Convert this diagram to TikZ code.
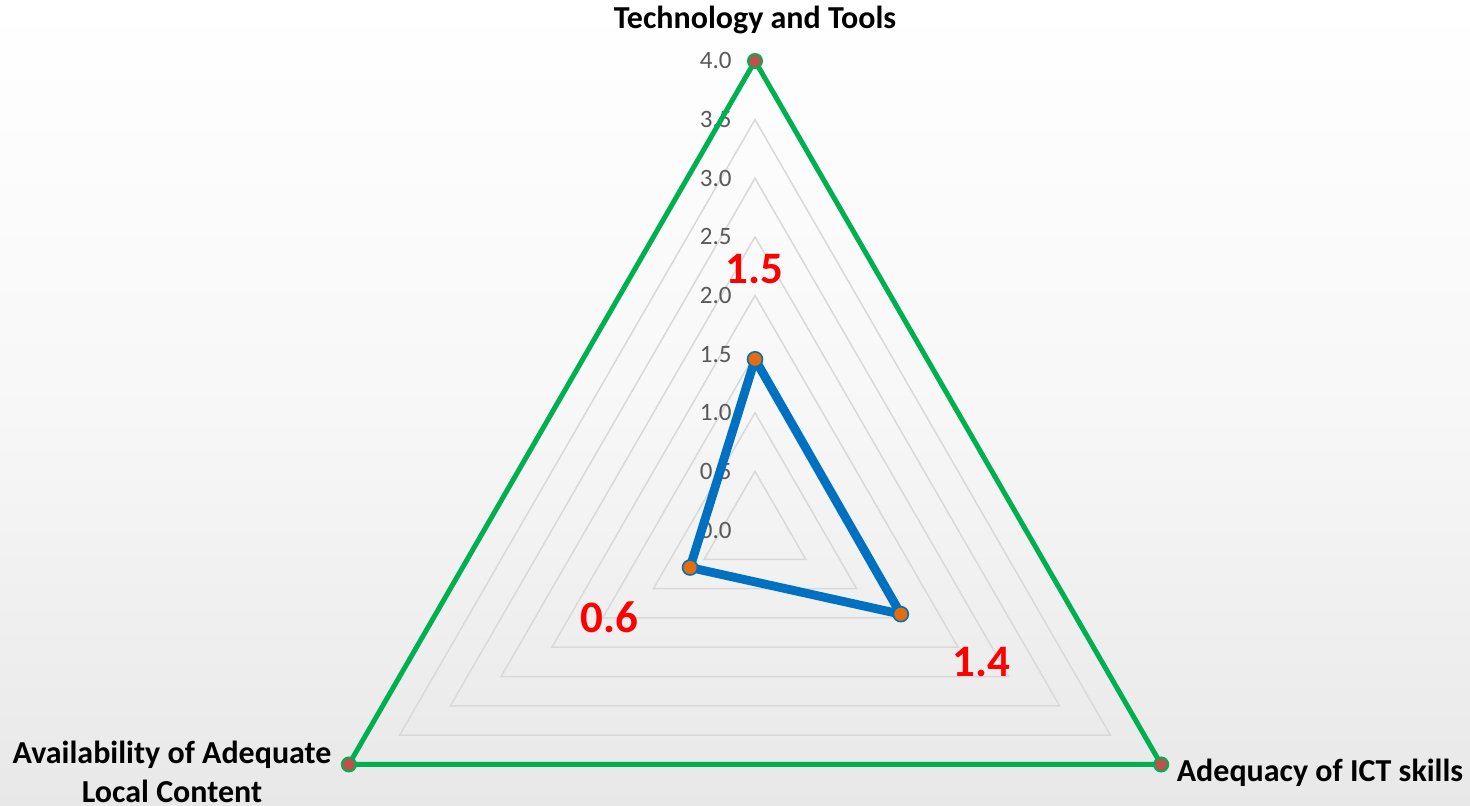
\documentclass[tikz,border=0pt]{standalone}
\usepackage{fontspec}
\setmainfont{Carlito}
\definecolor{gridc}{HTML}{D9D9D9}
\definecolor{greenc}{HTML}{00B050}
\definecolor{bluec}{HTML}{0070C0}
\definecolor{orangec}{HTML}{E46C0A}
\definecolor{redm}{HTML}{C0504D}
\definecolor{labc}{HTML}{595959}
\begin{document}
\begin{tikzpicture}[x=0.5pt,y=0.5pt,
  gridline/.style={draw=gridc,line width=0.75pt,line join=miter},
  ticklab/.style={text=labc,font=\fontsize{12.5}{14}\selectfont,anchor=east,inner sep=0pt},
  axlab/.style={font=\bfseries\fontsize{16}{19.5}\selectfont,align=center,inner sep=0pt},
  vallab/.style={text=red,font=\bfseries\fontsize{22.5}{24}\selectfont,inner sep=0pt},
  outer/.style={draw=greenc,line width=2.5pt,line join=round},
  data/.style={draw=bluec,line width=4.4pt,line join=round},
  gmark/.style={circle,fill=redm,draw=greenc,line width=1pt,minimum size=7pt,inner sep=0pt},
  bmark/.style={circle,fill=orangec,draw=bluec,line width=0.8pt,minimum size=7.5pt,inner sep=0pt}]
\useasboundingbox (0,0) rectangle (1470,806);
\shade[top color=white,bottom color=black!9,middle color=black!3] (0,0) rectangle (1470,806);
\begin{scope}[shift={(755,276)}]
\def\R{117.25}
% grid triangles
\foreach \k in {1,...,7}{
  \draw[gridline] (90:{\k*0.5*\R}) -- (-30:{\k*0.5*\R}) -- (210:{\k*0.5*\R}) -- cycle;
}
% tick labels
\foreach \v in {0.0,0.5,1.0,1.5,2.0,2.5,3.0,3.5,4.0}{
  \node[ticklab] at (-23,{\v*\R}) {\v};
}
% outer triangle
\coordinate (T) at (90:{4*\R});
\coordinate (Rt) at (-30:{4*\R});
\coordinate (L) at (210:{4*\R});
\draw[outer] (T) -- (Rt) -- (L) -- cycle;
\node[gmark] (mT) at (T) {};
\node[gmark] (mR) at (Rt) {};
\node[gmark] (mL) at (L) {};
% data
\coordinate (dT) at (90:{1.456*\R});
\coordinate (dR) at (-30:{1.436*\R});
\coordinate (dL) at (210:{0.64*\R});
\draw[data] (dT) -- (dR) -- (dL) -- cycle;
\node[bmark] (bT) at (dT) {};
\node[bmark] (bR) at (dR) {};
\node[bmark] (bL) at (dL) {};
\end{scope}
% value labels
\node[vallab] (v1) at (754,537) {1.5};
\node[vallab] (v2) at (609,189) {0.6};
\node[vallab] (v3) at (981,144) {1.4};
% axis labels
\node[axlab] (a1) at (755,786) {Technology and Tools};
\node[axlab] (a2) at (172,34) {Availability of Adequate\\Local Content};
\node[axlab] (a3) at (1320,33) {Adequacy of ICT skills};
\end{tikzpicture}
\end{document}
